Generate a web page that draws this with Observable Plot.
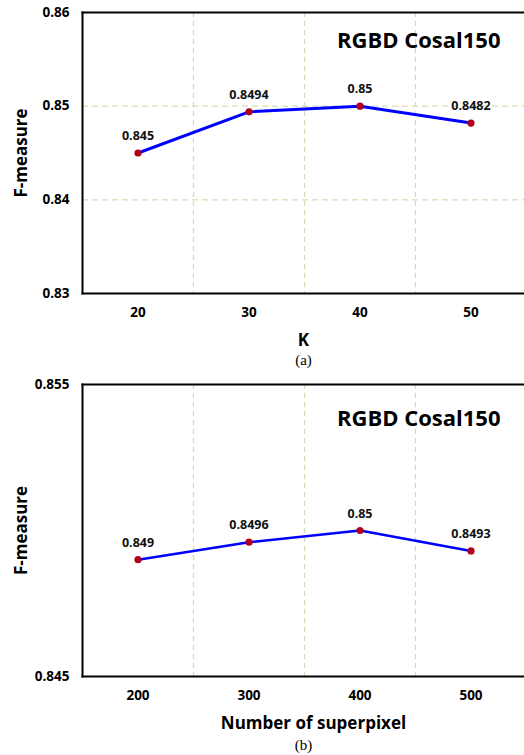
<!DOCTYPE html>
<html>
<head>
<meta charset="utf-8">
<script src="https://cdn.jsdelivr.net/npm/d3@7"></script>
<script src="https://cdn.jsdelivr.net/npm/@observablehq/plot@0.6"></script>
<style>
  html, body { margin: 0; padding: 0; background: #fff; }
  #charts svg { display: block; }
</style>
</head>
<body>
<div id="charts"></div>
<script>
// Panel (a)
const kValues = [20, 30, 40, 50];
const kScores = [0.845, 0.8494, 0.85, 0.8482];
const kLabels = ["0.845", "0.8494", "0.85", "0.8482"];
const kYTicks = [0.83, 0.84, 0.85, 0.86];
const kYGrid = [0.84, 0.85];
const kYDomain = [0.83, 0.86];

// Panel (b)
const spValues = [200, 300, 400, 500];
const spScores = [0.849, 0.8496, 0.85, 0.8493];
const spLabels = ["0.849", "0.8496", "0.85", "0.8493"];
const spYTicks = [0.845, 0.855];
const spYGrid = [];
const spYDomain = [0.845, 0.855];

const title = "RGBD Cosal150";
const yLabel = "F-measure";

const FONT = "'Open Sans', sans-serif";

function panel({xs, ys, labels, yTicks, yGrid, yDomain, xLabel, caption, height, marginTop, marginBottom, lineWidth, yTickFormat, titleDy, xLabelDx}) {
  const step = xs[1] - xs[0];
  const data = xs.map((x, i) => ({x, y: ys[i], label: labels[i]}));
  const mids = xs.slice(1).map((x, i) => (x + xs[i]) / 2);
  return Plot.plot({
    width: 524,
    height,
    marginLeft: 82,
    marginRight: 0,
    marginTop,
    marginBottom,
    style: {fontFamily: FONT, background: "#fff", overflow: "visible"},
    x: {domain: [xs[0] - step / 2, xs[xs.length - 1] + step / 2], range: [82, 526]},
    y: {domain: yDomain},
    marks: [
      Plot.ruleX(mids, {stroke: "#d5ddb8", strokeWidth: 1.3, strokeDasharray: "5,4"}),
      Plot.ruleY(yGrid, {stroke: "#d5ddb8", strokeWidth: 1.3, strokeDasharray: "6,4"}),
      Plot.frame({anchor: "left", stroke: "#000", strokeWidth: 2}),
      Plot.frame({anchor: "top", stroke: "#000", strokeWidth: 2}),
      Plot.frame({anchor: "bottom", stroke: "#000", strokeWidth: 2}),
      Plot.axisX(xs, {tickSize: 0, tickPadding: 14, fontSize: 13.5, fontWeight: "bold", label: null, fill: "#000"}),
      Plot.axisY(yTicks, {tickSize: 0, tickPadding: 13, fontSize: 13.5, fontWeight: "bold", label: null, tickFormat: yTickFormat, fill: "#000"}),
      Plot.line(data, {x: "x", y: "y", stroke: "#0000ff", strokeWidth: lineWidth}),
      Plot.dot(data, {x: "x", y: "y", r: 3.6, fill: "#b0001e", stroke: "none"}),
      Plot.text(data, {x: "x", y: "y", text: "label", dy: -17, fontSize: 12.5, fontWeight: "bold", fill: "#111"}),
      Plot.text([title], {frameAnchor: "top-right", textAnchor: "end", lineAnchor: "middle", dx: -24, dy: titleDy, fontSize: 22, fontWeight: "bold", fill: "#000"}),
      Plot.text([yLabel], {frameAnchor: "left", textAnchor: "middle", lineAnchor: "middle", rotate: -90, dx: -61, fontSize: 17, fontWeight: "bold", fill: "#000"}),
      Plot.text([xLabel], {frameAnchor: "bottom", lineAnchor: "middle", dx: xLabelDx, dy: 47, fontSize: 17, fontWeight: "bold", fill: "#000"}),
      Plot.text([caption], {frameAnchor: "bottom", lineAnchor: "middle", dy: marginBottom - 10, fontSize: 15, fontFamily: "'Liberation Serif', 'DejaVu Serif', serif", fill: "#000"})
    ]
  });
}

const root = document.getElementById("charts");
root.appendChild(panel({
  xs: kValues, ys: kScores, labels: kLabels, yTicks: kYTicks, yGrid: kYGrid, yDomain: kYDomain,
  xLabel: "K", caption: "(a)", height: 370, marginTop: 12, marginBottom: 77, lineWidth: 3,
  yTickFormat: d => String(+d.toFixed(3)), titleDy: 28, xLabelDx: 0
}));
root.appendChild(panel({
  xs: spValues, ys: spScores, labels: spLabels, yTicks: spYTicks, yGrid: spYGrid, yDomain: spYDomain,
  xLabel: "Number of superpixel", caption: "(b)", height: 385, marginTop: 14, marginBottom: 79, lineWidth: 2.5,
  yTickFormat: d => d.toFixed(3), titleDy: 34, xLabelDx: 10
}));
</script>
</body>
</html>
